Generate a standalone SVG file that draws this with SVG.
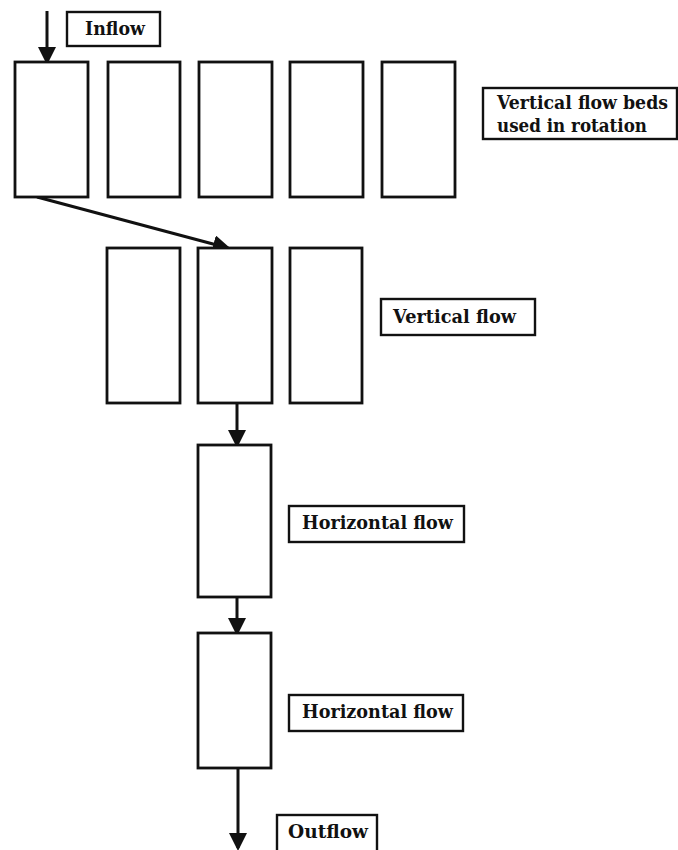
<svg xmlns="http://www.w3.org/2000/svg" width="678" height="850" viewBox="0 0 678 850">
<style>
.bed{fill:#fff;stroke:#111;stroke-width:2.8}
.lbl{fill:#fff;stroke:#111;stroke-width:2.4}
.t{font-family:"DejaVu Serif","Liberation Serif",serif;font-weight:bold;font-size:18px;fill:#111}
.c{stroke:#111;stroke-width:3;fill:none}
</style>
<defs>
<marker id="ah" markerWidth="6" markerHeight="6" refX="5" refY="3" orient="auto" markerUnits="strokeWidth">
<path d="M0,0 L6,3 L0,6 Z" fill="#111"/>
</marker>
</defs>
<rect width="678" height="850" fill="#fff"/>
<g id="connectors">
<line class="c" x1="47" y1="11" x2="47" y2="62" marker-end="url(#ah)"/>
<line class="c" x1="37" y1="197" x2="228" y2="248" marker-end="url(#ah)"/>
<line class="c" x1="237" y1="403" x2="237" y2="445" marker-end="url(#ah)"/>
<line class="c" x1="237" y1="597" x2="237" y2="633" marker-end="url(#ah)"/>
<line class="c" x1="238" y1="768" x2="238" y2="848" marker-end="url(#ah)"/>
</g>
<g id="bed1"><rect class="bed" x="15" y="62" width="73" height="135"/></g>
<g id="bed2"><rect class="bed" x="108" y="62" width="72" height="135"/></g>
<g id="bed3"><rect class="bed" x="199" y="62" width="73" height="135"/></g>
<g id="bed4"><rect class="bed" x="290" y="62" width="73" height="135"/></g>
<g id="bed5"><rect class="bed" x="382" y="62" width="73" height="135"/></g>
<g id="vbed1"><rect class="bed" x="107" y="248" width="73" height="155"/></g>
<g id="vbed2"><rect class="bed" x="198" y="248" width="74" height="155"/></g>
<g id="vbed3"><rect class="bed" x="290" y="248" width="72" height="155"/></g>
<g id="hbed1"><rect class="bed" x="198" y="445" width="73" height="152"/></g>
<g id="hbed2"><rect class="bed" x="198" y="633" width="73" height="135"/></g>
<g id="inflow"><rect class="lbl" x="67" y="12" width="93" height="34"/><text class="t" x="85" y="35" textLength="60" lengthAdjust="spacingAndGlyphs">Inflow</text></g>
<g id="vfbeds"><rect class="lbl" x="483" y="88" width="194" height="51"/><text class="t" x="497" y="109" textLength="171" lengthAdjust="spacingAndGlyphs">Vertical flow beds</text><text class="t" x="497" y="132" textLength="150" lengthAdjust="spacingAndGlyphs">used in rotation</text></g>
<g id="vflow"><rect class="lbl" x="381" y="299" width="154" height="36"/><text class="t" x="393" y="323" textLength="123" lengthAdjust="spacingAndGlyphs">Vertical flow</text></g>
<g id="hflow1"><rect class="lbl" x="289" y="506" width="175" height="36"/><text class="t" x="302" y="529" textLength="151" lengthAdjust="spacingAndGlyphs">Horizontal flow</text></g>
<g id="hflow2"><rect class="lbl" x="289" y="695" width="174" height="36"/><text class="t" x="302" y="718" textLength="151" lengthAdjust="spacingAndGlyphs">Horizontal flow</text></g>
<g id="outflow"><rect class="lbl" x="277" y="815" width="100" height="40"/><text class="t" x="288" y="838" textLength="80" lengthAdjust="spacingAndGlyphs">Outflow</text></g>
</svg>
